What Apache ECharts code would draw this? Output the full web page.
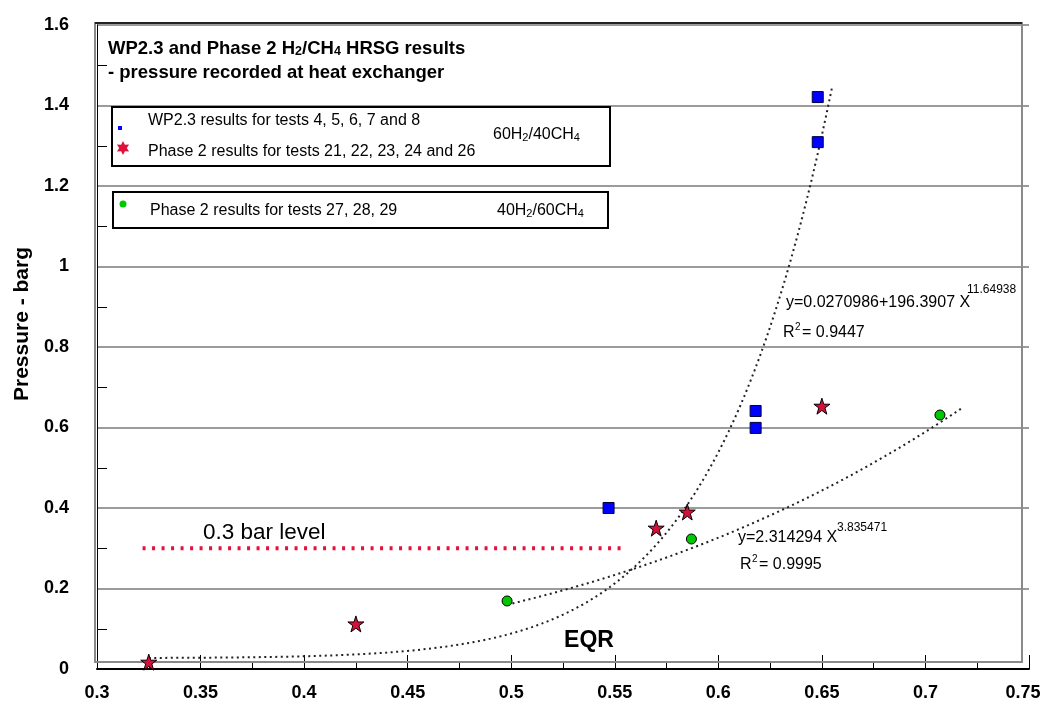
<!DOCTYPE html>
<html>
<head>
<meta charset="utf-8">
<script src="https://cdn.jsdelivr.net/npm/echarts@6/dist/echarts.min.js"></script>
<style>
  html, body { margin: 0; padding: 0; background: #ffffff; }
  #chart { width: 1045px; height: 717px; }
</style>
</head>
<body>
<div id="chart"></div>
<script>
// ---- data -------------------------------------------------------------
// WP2.3 results, tests 4, 5, 6, 7 and 8 (60H2/40CH4)
const wpEqr = [0.547, 0.618, 0.618, 0.648, 0.648];
const wpPressure = [0.400, 0.641, 0.599, 1.309, 1.421];

// Phase 2 results, tests 21, 22, 23, 24 and 26 (60H2/40CH4)
const p2aEqr = [0.325, 0.425, 0.570, 0.585, 0.650];
const p2aPressure = [0.017, 0.112, 0.350, 0.390, 0.653];

// Phase 2 results, tests 27, 28, 29 (40H2/60CH4)
const p2bEqr = [0.498, 0.587, 0.707];
const p2bPressure = [0.169, 0.323, 0.631];

// fitted curves  y = a + b * X^c, drawn over [from, to]
const fit6040Coef = [0.0270986, 196.3907, 11.64938];
const fit6040Span = [0.325, 0.655];
const fit4060Coef = [0, 2.314294, 3.835471];
const fit4060Span = [0.498, 0.720];

// 0.3 bar reference level
const barLevel = 0.3;
const barLevelSpan = [0.322, 0.553];

// axes: [min, max, interval]
const xScale = [0.3, 0.75, 0.05];
const yScale = [0, 1.6, 0.2];

// ---- helpers ----------------------------------------------------------
const FONT = '"Liberation Sans", Arial, Helvetica, sans-serif';
const pairs = (xs, ys) => xs.map((x, i) => [x, ys[i]]);

function fitCurve(coef, span, step) {
  const pts = [];
  for (let x = span[0]; x <= span[1] + 1e-9; x += step) {
    pts.push([x, coef[0] + coef[1] * Math.pow(x, coef[2])]);
  }
  return pts;
}

// star outline as polygon points around (cx, cy)
function starPoints(cx, cy, n, rOut, rIn) {
  const pts = [];
  for (let i = 0; i < 2 * n; i++) {
    const r = i % 2 === 0 ? rOut : rIn;
    const a = -Math.PI / 2 + i * Math.PI / n;
    pts.push([cx + r * Math.cos(a), cy + r * Math.sin(a)]);
  }
  return pts;
}

const STAR5 = 'path://M50,2 L61,36 L97,36 L68,57 L79,92 L50,71 L21,92 L32,57 L3,36 L39,36 Z';

// ---- chart ------------------------------------------------------------
const chart = echarts.init(document.getElementById('chart'), null, { renderer: 'canvas' });

const plain = { fontFamily: FONT, fontSize: 16, color: '#000' };
const sub = { fontFamily: FONT, fontSize: 11, color: '#000', verticalAlign: 'bottom' };
const boldT = { fontFamily: FONT, fontSize: 18.5, fontWeight: 'bold', color: '#000' };
const boldSub = { fontFamily: FONT, fontSize: 12.5, fontWeight: 'bold', color: '#000', verticalAlign: 'bottom' };

function txt(x, y, text, style, extra) {
  return Object.assign({
    type: 'text', x: x, y: y, z: 100,
    style: Object.assign({ text: text, fill: '#000', font: '16px ' + FONT, verticalAlign: 'middle' }, style)
  }, extra || {});
}

// "R² = value" written as three pieces so the exponent sits high
function rSquared(x, y, value) {
  return [
    txt(x, y, 'R', {}),
    txt(x + 12, y - 6, '2', { font: '10px ' + FONT }),
    txt(x + 19, y, '= ' + value, {})
  ];
}

chart.setOption({
  backgroundColor: '#ffffff',
  animation: false,
  grid: { left: 97, right: 16, top: 25, bottom: 48, containLabel: false },
  xAxis: {
    type: 'value',
    min: xScale[0], max: xScale[1], interval: xScale[2],
    axisLine: { show: true, onZero: false, lineStyle: { color: '#000', width: 2 } },
    axisTick: { show: true, inside: true, length: 14, lineStyle: { color: '#000', width: 1 } },
    minorTick: { show: true, splitNumber: 2, length: 7, lineStyle: { color: '#000', width: 1 } },
    splitLine: { show: false },
    axisLabel: {
      margin: 15,
      fontFamily: FONT, fontSize: 18, fontWeight: 'bold', color: '#000',
      formatter: v => (Math.abs(v - xScale[1]) < 1e-9 ? '{e|' + v + '}' : String(v)),
      rich: { e: { fontFamily: FONT, fontSize: 18, fontWeight: 'bold', color: '#000', padding: [0, 12, 0, 0] } }
    }
  },
  yAxis: {
    type: 'value',
    min: yScale[0], max: yScale[1], interval: yScale[2],
    axisLine: { show: true, onZero: false, lineStyle: { color: '#000', width: 1 } },
    axisTick: { show: false, inside: true },
    minorTick: { show: true, splitNumber: 2, length: 10, lineStyle: { color: '#000', width: 1 } },
    splitLine: { show: true, lineStyle: { color: '#7a7a7a', width: 1.5 } },
    axisLabel: { margin: 28, fontFamily: FONT, fontSize: 18, fontWeight: 'bold', color: '#000' }
  },
  series: [
    {
      name: 'fit 60H2/40CH4', type: 'line', data: fitCurve(fit6040Coef, fit6040Span, 0.0025),
      showSymbol: false, smooth: false, z: 3, silent: true,
      lineStyle: { color: '#222', width: 2, type: [2, 3.5] }
    },
    {
      name: 'fit 40H2/60CH4', type: 'line', data: fitCurve(fit4060Coef, fit4060Span, 0.0025),
      showSymbol: false, smooth: false, z: 3, silent: true,
      lineStyle: { color: '#222', width: 2, type: [2, 3.5] }
    },
    {
      name: '0.3 bar level', type: 'line', data: [[barLevelSpan[0], barLevel], [barLevelSpan[1], barLevel]],
      showSymbol: false, z: 3, silent: true,
      lineStyle: { color: '#e8103c', width: 4, type: [3, 6.5], cap: 'butt' }
    },
    {
      name: 'WP2.3 tests 4-8', type: 'scatter', data: pairs(wpEqr, wpPressure), z: 5,
      symbol: 'rect', symbolSize: 11,
      itemStyle: { color: '#0000ff', borderColor: '#000040', borderWidth: 1, opacity: 1 }
    },
    {
      name: 'Phase 2 tests 21-26', type: 'scatter', data: pairs(p2aEqr, p2aPressure), z: 5,
      symbol: STAR5, symbolSize: 16,
      itemStyle: { color: '#d4103a', borderColor: '#000', borderWidth: 1, opacity: 1 }
    },
    {
      name: 'Phase 2 tests 27-29', type: 'scatter', data: pairs(p2bEqr, p2bPressure), z: 5,
      symbol: 'circle', symbolSize: 10,
      itemStyle: { color: '#00c800', borderColor: '#000', borderWidth: 1, opacity: 1 }
    }
  ],
  graphic: [
    // plot frame
    { type: 'rect', z: 1, silent: true, shape: { x: 95, y: 23, width: 927, height: 639 },
      style: { fill: 'none', stroke: '#8a8a8a', lineWidth: 2 } },
    { type: 'line', z: 1, silent: true, shape: { x1: 95, y1: 23, x2: 1022, y2: 23 },
      style: { stroke: '#000', lineWidth: 1.5 } },

    // heading
    { type: 'text', x: 108, y: 49, z: 100, style: {
        text: '{b|WP2.3 and Phase 2 H}{s|2}{b|/CH}{s|4}{b| HRSG results}',
        verticalAlign: 'middle', rich: { b: boldT, s: boldSub } } },
    txt(108, 73, '- pressure recorded at heat exchanger', { font: 'bold 18.5px ' + FONT }),

    // first legend box
    { type: 'rect', z: 99, shape: { x: 112, y: 107, width: 498, height: 59 },
      style: { fill: '#fff', stroke: '#000', lineWidth: 2 } },
    { type: 'rect', z: 100, shape: { x: 118, y: 126, width: 4, height: 4 }, style: { fill: '#0000ff' } },
    txt(148, 121, 'WP2.3 results for tests 4, 5, 6, 7 and 8', {}),
    { type: 'polygon', z: 100, shape: { points: starPoints(123, 148, 6, 7, 3.8) }, style: { fill: '#e0103c' } },
    txt(148, 152, 'Phase 2 results for tests 21, 22, 23, 24 and 26', {}),
    { type: 'text', x: 493, y: 135, z: 100, style: {
        text: '{n|60H}{s|2}{n|/40CH}{s|4}', verticalAlign: 'middle', rich: { n: plain, s: sub } } },

    // second legend box
    { type: 'rect', z: 99, shape: { x: 113, y: 192, width: 495, height: 36 },
      style: { fill: '#fff', stroke: '#000', lineWidth: 2 } },
    { type: 'circle', z: 100, shape: { cx: 123, cy: 204, r: 3.5 }, style: { fill: '#00c800' } },
    txt(150, 211, 'Phase 2 results for tests 27, 28, 29', {}),
    { type: 'text', x: 497, y: 211, z: 100, style: {
        text: '{n|40H}{s|2}{n|/60CH}{s|4}', verticalAlign: 'middle', rich: { n: plain, s: sub } } },

    // fit equations
    txt(786, 303, 'y=0.0270986+196.3907 X', {}),
    txt(967, 290, '11.64938', { font: '12px ' + FONT }),
    ...rSquared(783, 333, '0.9447'),
    txt(738, 538, 'y=2.314294 X', {}),
    txt(837, 528, '3.835471', { font: '12px ' + FONT }),
    ...rSquared(740, 565, '0.9995'),

    // other annotations
    txt(203, 533, '0.3 bar level', { font: '22.5px ' + FONT }),
    txt(589, 641, 'EQR', { font: 'bold 23px ' + FONT, align: 'center' }),
    { type: 'text', x: 22, y: 324, rotation: Math.PI / 2, z: 100, style: {
        text: 'Pressure - barg', font: 'bold 21px ' + FONT, fill: '#000',
        align: 'center', verticalAlign: 'middle' } }
  ]
});
</script>
</body>
</html>
